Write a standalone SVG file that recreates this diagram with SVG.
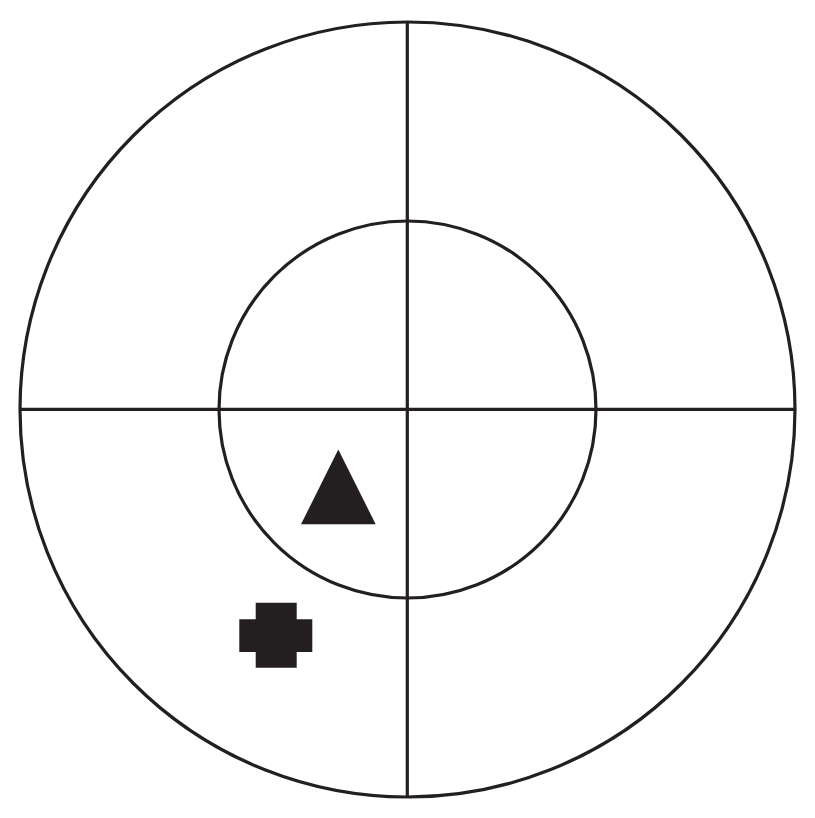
<svg xmlns="http://www.w3.org/2000/svg" width="815" height="818" viewBox="0 0 815 818">
<style>
.ln{fill:none;stroke:#231f20;stroke-width:3.2}
.sh{fill:#231f20}
</style>
<rect width="815" height="818" fill="#ffffff"/>
<g id="outer-circle"><circle class="ln" cx="407.5" cy="409.5" r="387.5"/></g>
<g id="inner-circle"><circle class="ln" cx="407.5" cy="409.5" r="188.5"/></g>
<g id="crosshair">
<line class="ln" x1="407.3" y1="22" x2="407.3" y2="797"/>
<line class="ln" x1="20" y1="409.3" x2="795" y2="409.3"/>
</g>
<g id="triangle"><polygon class="sh" points="338.3,449.5 375.7,524.3 301,524.3"/></g>
<g id="cross"><polygon class="sh" points="255.7,602.7 296.7,602.7 296.7,619.3 312.3,619.3 312.3,652 296.7,652 296.7,667.7 255.7,667.7 255.7,652 239.3,652 239.3,619.3 255.7,619.3"/></g>
</svg>
